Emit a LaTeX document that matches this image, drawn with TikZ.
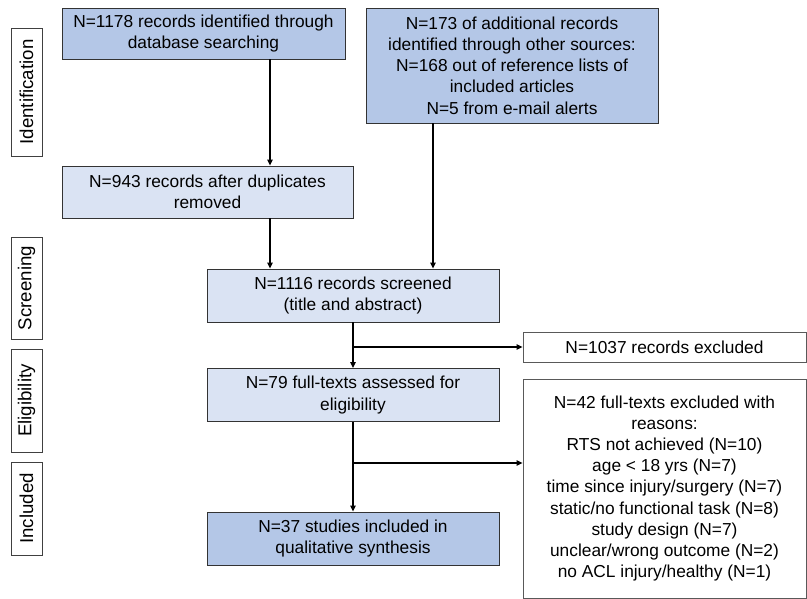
\documentclass[tikz,border=0pt]{standalone}
\usepackage{fontspec}
\setmainfont{Liberation Sans}
\usetikzlibrary{arrows.meta, positioning, calc}

\definecolor{prismadark}{HTML}{B4C7E7}
\definecolor{prismalight}{HTML}{DAE3F3}

\begin{document}
\begin{tikzpicture}[
  x=0.75pt, y=-0.75pt,
  % Define styles for the different elements
  box/.style={draw=black!80, line width=0.6pt, inner sep=1pt, align=center, font=\fontsize{13}{15.9}\selectfont},
  darkbox/.style={box, fill=prismadark, minimum width=219pt, minimum height=39.75pt},
  lightbox/.style={box, fill=prismalight, minimum width=219pt, minimum height=39.75pt},
  exclbox/.style={box, draw=black!65, fill=white, minimum width=212.25pt},
  stage/.style={draw=black!75, line width=0.6pt, fill=white, rotate=90, minimum height=23.25pt, inner sep=0pt, font=\fontsize{14}{16}\selectfont},
  arrow/.style={-{Triangle[length=4.5pt, width=4pt]}, line width=0.9pt}
]

\useasboundingbox (0,0) rectangle (807,599);

% Stage labels on the left
\node[stage, minimum width=96pt] (ident) at (26.5, 92) {Identification};
\node[stage, minimum width=76.5pt] (screening) at (26.5, 288) {Screening};
\node[stage, minimum width=77.25pt] (elig) at (26.5, 400.5) {Eligibility};
\node[stage, minimum width=69.75pt] (incl) at (26.5, 508.5) {Included};

% Row 1: Identification
\node[darkbox, minimum width=212.25pt, minimum height=38.25pt] (db) at (203.5, 33.5) {N=1178 records identified through\\database searching};
\node[darkbox, minimum height=86.25pt] (other) at (512, 65.5) {N=173 of additional records\\identified through other sources:\\N=168 out of reference lists of\\included articles\\N=5 from e-mail alerts};

\node[lightbox, minimum width=218.25pt, minimum height=39pt] (dup) at (207.5, 192) {N=943 records after duplicates\\removed};

% Row 2: Screening
\node[lightbox] (screen) at (353, 295.5) {N=1116 records screened\\(title and abstract)};
\node[exclbox, minimum height=22.5pt] (excl1) at (664.5, 347) {N=1037 records excluded};

% Row 3: Eligibility
\node[lightbox] (full) at (353, 395) {N=79 full-texts assessed for\\eligibility};
\node[exclbox, minimum height=164.25pt] (excl2) at (664.5, 488.5) {N=42 full-texts excluded with\\reasons:\\RTS not achieved (N=10)\\age < 18 yrs (N=7)\\time since injury/surgery (N=7)\\static/no functional task (N=8)\\study design (N=7)\\unclear/wrong outcome (N=2)\\no ACL injury/healthy (N=1)};

% Row 4: Included
\node[darkbox] (final) at (353, 538.5) {N=37 studies included in\\qualitative synthesis};

% Helper coordinates for the off-centre arrows
\coordinate (leftx) at (270, 0);
\coordinate (rightx) at (433, 0);
\coordinate (split) at (353, 463);

% Arrows
\draw[arrow] (db.south -| leftx) -- (dup.north -| leftx);
\draw[arrow] (dup.south -| leftx) -- (screen.north -| leftx);
\draw[arrow] (other.south -| rightx) -- (screen.north -| rightx);
\draw[arrow] (screen.south) -- (full.north);
\draw[arrow] (screen.south |- excl1.west) -- (excl1.west);
\draw[arrow] (full.south) -- (final.north);
\draw[arrow] (split) -- (excl2.west |- split);

\end{tikzpicture}
\end{document}
